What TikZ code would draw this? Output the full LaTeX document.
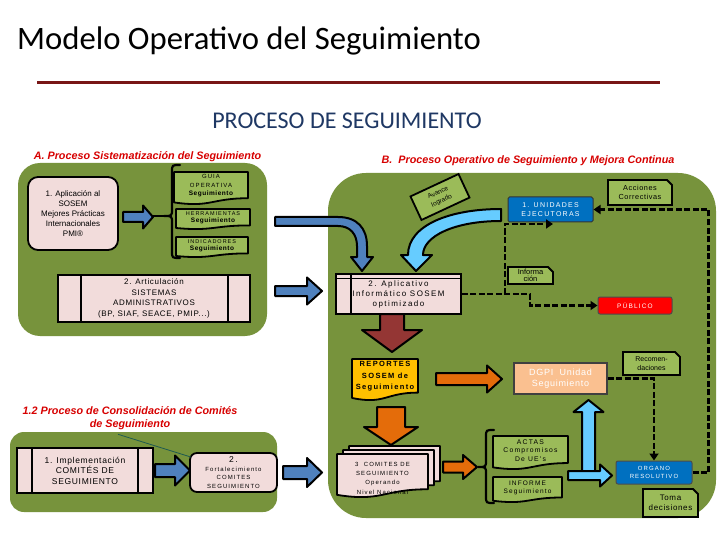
\documentclass[tikz,border=0pt]{standalone}
\usepackage{fontspec}
\setmainfont{Liberation Sans}
\newfontfamily\calib{Carlito}
\newfontfamily\spA[LetterSpace=8]{Liberation Sans}
\newfontfamily\spB[LetterSpace=18]{Liberation Sans}
\usetikzlibrary{arrows.meta}
\definecolor{cpanel}{RGB}{119,147,60}
\definecolor{clg}{RGB}{155,187,89}
\definecolor{cpink}{RGB}{242,220,219}
\definecolor{cbar}{RGB}{79,129,189}
\definecolor{clb}{RGB}{102,204,255}
\definecolor{cue}{RGB}{0,112,192}
\definecolor{cdred}{RGB}{148,54,52}
\definecolor{corange}{RGB}{228,108,10}
\definecolor{cyel}{RGB}{255,192,0}
\definecolor{cpeach}{RGB}{250,192,144}
\definecolor{chead}{RGB}{215,0,0}
\definecolor{cnavy}{RGB}{31,56,100}
\definecolor{crule}{RGB}{120,22,22}
\definecolor{cteal}{RGB}{30,90,80}
% right-pointing block arrow: x1 x2 yc shafthalf headhalf headlen colour
\newcommand\blkR[7]{%
 \filldraw[barrow, fill=#7] (#1,{#3-#4}) -- ({#2-#6},{#3-#4}) -- ({#2-#6},{#3-#5}) -- (#2,#3) -- ({#2-#6},{#3+#5}) -- ({#2-#6},{#3+#4}) -- (#1,{#3+#4}) -- cycle;}
% vertical block arrow: y1 y2 xc shafthalf headhalf headlen colour
\newcommand\blkD[7]{%
 \filldraw[barrow, fill=#7] ({#3-#4},#1) -- ({#3-#4},{#2-#6}) -- ({#3-#5},{#2-#6}) -- (#3,#2) -- ({#3+#5},{#2-#6}) -- ({#3+#4},{#2-#6}) -- ({#3+#4},#1) -- cycle;}
% document shape: name cx cy w h fill font text
\newcommand\docN[8]{%
 \filldraw[fill=#6, draw=black, line width=1.8pt, line join=round] ({#2-#4/2},{#3-#5/2}) -- ({#2+#4/2},{#3-#5/2}) -- ({#2+#4/2},{#3+0.32*#5}) .. controls (#2,{#3+0.32*#5}) and (#2,{#3+0.62*#5}) .. ({#2-#4/2},{#3+0.45*#5}) -- cycle;
 \node[align=center, inner sep=0pt, font=#7] (#1) at (#2,{#3-0.07*#5}) {#8};}
% snipped-corner box: name cx cy w h fill font text
\newcommand\snipN[8]{%
 \filldraw[fill=#6, draw=black, line width=1.8pt] ({#2-#4/2},{#3-#5/2}) -- ({#2+#4/2-5},{#3-#5/2}) -- ({#2+#4/2},{#3-#5/2+5}) -- ({#2+#4/2},{#3+#5/2}) -- ({#2-#4/2},{#3+#5/2}) -- cycle;
 \node[align=center, inner sep=0pt, font=#7] (#1) at (#2,#3) {#8};}
\begin{document}
\begin{tikzpicture}[x=1pt,y=-1pt,
 barrow/.style={draw=black, line width=2pt, line join=round},
 bx/.style={draw=black, line width=1.8pt, align=center, inner sep=1pt},
 pinkbox/.style={bx, fill=cpink},
 head/.style={inner sep=0pt, text=chead, font=\bfseries\itshape\fontsize{10.8}{13}\selectfont},
 brace/.style={line width=2.2pt, line cap=round},
 dline/.style={line width=2.6pt, dash pattern=on 6pt off 2.5pt},
 dconn/.style={dline, -{Triangle[length=7pt,width=9pt]}}]
\useasboundingbox (0,0) rectangle (720,540);
\fill[white] (0,0) rectangle (720,540);

% titles
\node[anchor=base west, inner sep=0pt, font=\calib\fontsize{32.7}{36}\selectfont] (title) at (17,50) {Modelo Operativo del Seguimiento};
\draw[line width=3pt, draw=crule] (37,83) -- (660,83);
\node[anchor=base, inner sep=0pt, text=cnavy, font=\calib\fontsize{24}{28}\selectfont] (proc) at (347,129) {PROCESO DE SEGUIMIENTO};

% panels
\fill[cpanel, rounded corners=22] (18,163) rectangle (267,336);
\fill[cpanel, rounded corners=38] (328,173) rectangle (716,518);
\fill[cpanel, rounded corners=14] (10,432) rectangle (277,512);

% headings
\node[head] (hA) at (147.5,157) {A. Proceso Sistematización del Seguimiento};
\node[head] (hB) at (528,161) {B.\ \ Proceso Operativo de Seguimiento y Mejora Continua};
\node[head, align=center] (h12) at (130,418.5) {1.2 Proceso de Consolidación de Comités\\de Seguimiento};

% ===== Panel A =====
\node[pinkbox, rounded corners=10, minimum width=90pt, minimum height=73pt, font=\fontsize{8}{10}\selectfont] (apl1) at (73,213.5) {1. Aplicación al\\SOSEM\\Mejores Prácticas\\Internacionales\\PMI®};
\blkR{123}{153}{217}{5}{11.5}{10}{cbar}
\draw[brace] (153,216) -- (164,216);
\draw[brace] (180,165) .. controls (172,165) .. (172,172) -- (172,209) .. controls (172,216) .. (164,216) .. controls (172,216) .. (172,223) -- (172,251) .. controls (172,258) .. (180,258);
\docN{guia}{211}{188}{74}{32}{clg}{\spB\fontsize{6}{8.5}\selectfont}{GUIA\\OPERATIVA\\{\spA\bfseries\fontsize{6.5}{8}\selectfont Seguimiento}}
\docN{herr}{213}{219}{74}{20}{clg}{\spB\fontsize{5.5}{7.5}\selectfont}{HERRAMIENTAS\\{\spA\bfseries\fontsize{6.5}{7.5}\selectfont Seguimiento}}
\docN{indi}{212}{247}{72}{20}{clg}{\spB\fontsize{5.5}{7.5}\selectfont}{INDICADORES\\{\spA\bfseries\fontsize{6.5}{7.5}\selectfont Seguimiento}}
\node[pinkbox, minimum width=192pt, minimum height=47pt, font=\spA\fontsize{8}{10.5}\selectfont] (art) at (154,298.5) {2. Articulación\\SISTEMAS\\ADMINISTRATIVOS\\(BP, SIAF, SEACE, PMIP...)};
\draw[line width=1.8pt] ([xshift=24pt]art.north west) -- ([xshift=24pt]art.south west);
\draw[line width=1.8pt] ([xshift=-23pt]art.north east) -- ([xshift=-23pt]art.south east);

% arrows from A into B
\filldraw[barrow, fill=cbar] (275,217) -- (338,217) .. controls (357,217) and (367,228) .. (367,246) -- (367,257) -- (373,257) -- (362,271) -- (351,257) -- (357,257) -- (357,246) .. controls (357,234) and (350,226) .. (338,226) -- (275,226) -- cycle;
\blkR{275}{322}{291}{5}{13.5}{15}{cbar}

% ===== Panel B =====
\filldraw[barrow, fill=clb] (501,209) .. controls (450,209) and (408,225) .. (408,255) -- (401,255) -- (416,271) -- (432,255) -- (423,255) .. controls (423,236) and (455,221) .. (501,221) -- cycle;
\node[bx, fill=clg, rotate=25, minimum width=53pt, minimum height=26pt, font=\fontsize{6.5}{9}\selectfont] (av) at (440,197) {Avance\\logrado};
\node[fill=cue, draw=black!80, line width=1pt, rounded corners=1.5, minimum width=85pt, minimum height=25pt, text=white, align=center, inner sep=1pt, font=\spB\fontsize{7}{9}\selectfont] (ue) at (550.5,209.5) {1. UNIDADES\\EJECUTORAS};
\snipN{acc}{640}{192.5}{64}{25}{clg}{\spA\fontsize{7.3}{9}\selectfont}{Acciones\\Correctivas}
\blkD{314}{352}{392}{12}{30}{22}{cdred}
\node[pinkbox, minimum width=125pt, minimum height=40pt, font=\spB\fontsize{8}{10}\selectfont] (apl2) at (398.5,294) {2. Aplicativo\\Informático SOSEM\\optimizado};
\draw[line width=1.8pt] ([xshift=16pt]apl2.north west) -- ([xshift=16pt]apl2.south west);
\draw[line width=1pt] ([yshift=-5pt]apl2.north west) -- ([yshift=-5pt]apl2.north east);
\snipN{inf}{530.5}{275.5}{45}{17}{clg}{\fontsize{7.5}{7.5}\selectfont}{Informa\\ción}
\node[fill=red, draw=black!70, line width=1pt, rounded corners=2, minimum width=74pt, minimum height=17pt, text=white, inner sep=1pt, font=\spB\fontsize{6.5}{8}\selectfont] (pub) at (635,305.5) {PÚBLICO};

\coordinate (br) at (505,294);
\coordinate (ueIn) at (553,224);
\draw[dconn] (apl2.east) -- (530,294) |- (pub.west);
\draw[dconn] (br) |- (ueIn);

\blkD{407}{445}{391}{14}{27}{18}{corange}
\docN{rep}{385}{379.5}{66}{41}{cyel}{\spB\bfseries\fontsize{7.5}{11.5}\selectfont}{REPORTES\\SOSEM de\\Seguimiento}
\blkR{436}{502}{379}{6}{13.5}{15}{corange}
\node[fill=cpeach, draw=black!75, line width=1.6pt, minimum width=93pt, minimum height=31pt, text=white, align=center, inner sep=1pt, font=\spA\fontsize{9}{11.5}\selectfont] (dgpi) at (560.5,378.5) {DGPI\ \ Unidad\\Seguimiento};
\snipN{rec}{651.5}{363.5}{57}{23}{clg}{\fontsize{7}{9}\selectfont}{Recomen-\\daciones}

\docN{com3}{394.5}{467.5}{91}{43}{cpink}{}{}
\docN{com2}{388.5}{471.5}{91}{43}{cpink}{}{}
\docN{comshape}{382.5}{475.5}{91}{43}{cpink}{}{}
\node[align=center, inner sep=0pt, font=\spB\fontsize{6}{9.3}\selectfont] (com) at (382.5,478) {3\ \ COMITES DE\\SEGUIMIENTO\\Operando\\Nivel Nacional};
\blkR{443}{477}{467}{5.5}{12}{14}{corange}
\draw[brace] (494,430) .. controls (486,430) .. (486,437) -- (486,460) .. controls (486,467) .. (478,467) .. controls (486,467) .. (486,474) -- (486,496) .. controls (486,503) .. (494,503);
\docN{act}{530.5}{452.5}{75}{33}{clg}{\spB\fontsize{6.8}{8.5}\selectfont}{ACTAS\\Compromisos\\De UE's}
\docN{infm}{527.5}{489.5}{69}{25}{clg}{\spB\fontsize{6.5}{8}\selectfont}{INFORME\\Seguimiento}
\blkD{476}{400}{588.5}{6.5}{15}{-12}{clb}
\blkR{568}{612}{475.5}{4.5}{11}{12}{clb}
\node[fill=cue, draw=black!70, line width=1pt, rounded corners=2, minimum width=76pt, minimum height=23pt, text=white, align=center, inner sep=1pt, font=\spB\fontsize{6}{8}\selectfont] (org) at (654,472.5) {ORGANO\\RESOLUTIVO};
\snipN{toma}{670.5}{503}{55}{28}{clg}{\spA\fontsize{8}{10}\selectfont}{Toma\\decisiones}

\draw[dconn] (org.east) -- ++(16,0) |- (ue.east);
\draw[dconn] (dgpi.east) -| (org.north);

% ===== Panel 1.2 =====
\node[pinkbox, minimum width=136pt, minimum height=45pt, font=\spA\fontsize{8.5}{10.5}\selectfont] (impl) at (85,470.5) {1. Implementación\\COMITÉS DE\\SEGUIMIENTO};
\draw[line width=1.8pt] ([xshift=16pt]impl.north west) -- ([xshift=16pt]impl.south west);
\draw[line width=1.8pt] ([xshift=-16pt]impl.north east) -- ([xshift=-16pt]impl.south east);
\blkR{155}{190}{470.5}{6.5}{15}{15}{cbar}
\node[pinkbox, rounded corners=7, minimum width=87pt, minimum height=39pt, font=\spB\fontsize{6}{8.8}\selectfont] (fort) at (233.5,472.5) {{\fontsize{8.5}{10}\selectfont 2.}\\Fortalecimiento\\COMITES\\SEGUIMIENTO};
\draw[line width=0.8pt, cteal] ([xshift=-12pt,yshift=-4pt]h12.south) -- ([xshift=2pt,yshift=-5pt]fort.north west);
\blkR{283}{322}{472.5}{6.5}{14.5}{15}{cbar}
\end{tikzpicture}
\end{document}
